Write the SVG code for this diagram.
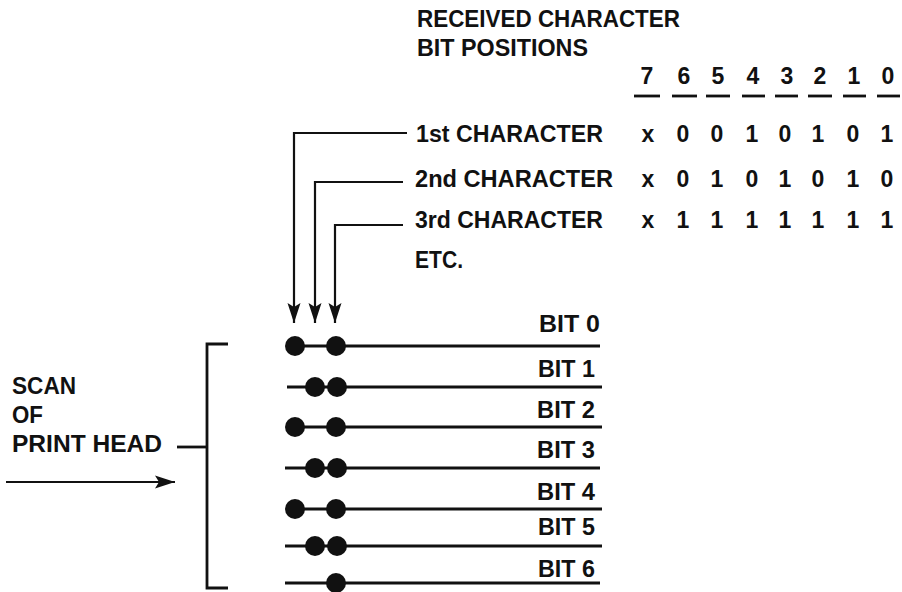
<svg xmlns="http://www.w3.org/2000/svg" width="902" height="592" viewBox="0 0 902 592">
<style>
text{font-family:"Liberation Sans",Arial,Helvetica,sans-serif;font-weight:bold;font-size:23px;fill:#111}
.d{text-anchor:middle}
.ln{stroke:#111;stroke-width:2.8;fill:none;stroke-linecap:butt}
.thin{stroke:#111;stroke-width:2.2;fill:none}
.dot{fill:#111}
</style>
<defs>
<marker id="ah" markerUnits="userSpaceOnUse" markerWidth="20" markerHeight="14" viewBox="0 0 20 14" refX="20" refY="7" orient="auto">
<path d="M0,0.5 L20,7 L0,13.5 L4,7 Z" fill="#111"/>
</marker>
</defs>
<rect width="902" height="592" fill="#fff"/>

<g id="header">
<text x="417" y="27" textLength="263" lengthAdjust="spacingAndGlyphs">RECEIVED CHARACTER</text>
<text x="417" y="56" textLength="171" lengthAdjust="spacingAndGlyphs">BIT POSITIONS</text>
<g class="d">
<text x="647" y="84">7</text><text x="684" y="84">6</text><text x="718" y="84">5</text><text x="753" y="84">4</text>
<text x="787" y="84">3</text><text x="820" y="84">2</text><text x="854" y="84">1</text><text x="888" y="84">0</text>
</g>
<g class="ln">
<line x1="634" y1="96" x2="660" y2="96"/><line x1="672" y1="96" x2="697" y2="96"/><line x1="706" y1="96" x2="730" y2="96"/><line x1="742" y1="96" x2="765" y2="96"/>
<line x1="775" y1="96" x2="798" y2="96"/><line x1="808" y1="96" x2="832" y2="96"/><line x1="843" y1="96" x2="866" y2="96"/><line x1="877" y1="96" x2="900" y2="96"/>
</g>
</g>

<g id="char1">
<text x="416" y="142" textLength="187" lengthAdjust="spacingAndGlyphs">1st CHARACTER</text>
<g class="d">
<text x="648" y="142">x</text><text x="683" y="142">0</text><text x="717" y="142">0</text><text x="752" y="142">1</text>
<text x="785" y="142">0</text><text x="818" y="142">1</text><text x="853" y="142">0</text><text x="887" y="142">1</text>
</g>
</g>
<g id="char2">
<text x="415" y="187" textLength="198" lengthAdjust="spacingAndGlyphs">2nd CHARACTER</text>
<g class="d">
<text x="648" y="187">x</text><text x="683" y="187">0</text><text x="717" y="187">1</text><text x="752" y="187">0</text>
<text x="785" y="187">1</text><text x="818" y="187">0</text><text x="853" y="187">1</text><text x="887" y="187">0</text>
</g>
</g>
<g id="char3">
<text x="415" y="228" textLength="188" lengthAdjust="spacingAndGlyphs">3rd CHARACTER</text>
<g class="d">
<text x="648" y="228">x</text><text x="683" y="228">1</text><text x="717" y="228">1</text><text x="752" y="228">1</text>
<text x="785" y="228">1</text><text x="818" y="228">1</text><text x="853" y="228">1</text><text x="887" y="228">1</text>
</g>
</g>
<g id="etc">
<text x="415" y="268" textLength="48" lengthAdjust="spacingAndGlyphs">ETC.</text>
</g>

<g id="bit0">
<line class="ln" x1="295" y1="346" x2="600" y2="346"/>
<circle class="dot" cx="295" cy="346" r="10"/><circle class="dot" cx="336" cy="346" r="10"/>
<text x="539" y="332" textLength="61" lengthAdjust="spacingAndGlyphs">BIT 0</text>
</g>
<g id="bit1">
<line class="ln" x1="287" y1="387" x2="602" y2="387"/>
<circle class="dot" cx="315" cy="387" r="10"/><circle class="dot" cx="337" cy="387" r="10"/>
<text x="538" y="377" textLength="57" lengthAdjust="spacingAndGlyphs">BIT 1</text>
</g>
<g id="bit2">
<line class="ln" x1="287" y1="427" x2="602" y2="427"/>
<circle class="dot" cx="295" cy="427" r="10"/><circle class="dot" cx="336" cy="427" r="10"/>
<text x="537" y="418" textLength="58" lengthAdjust="spacingAndGlyphs">BIT 2</text>
</g>
<g id="bit3">
<line class="ln" x1="285" y1="468" x2="600" y2="468"/>
<circle class="dot" cx="315" cy="468" r="10"/><circle class="dot" cx="337" cy="468" r="10"/>
<text x="537" y="458" textLength="58" lengthAdjust="spacingAndGlyphs">BIT 3</text>
</g>
<g id="bit4">
<line class="ln" x1="287" y1="509" x2="602" y2="509"/>
<circle class="dot" cx="295" cy="509" r="10"/><circle class="dot" cx="336" cy="509" r="10"/>
<text x="537" y="500" textLength="58" lengthAdjust="spacingAndGlyphs">BIT 4</text>
</g>
<g id="bit5">
<line class="ln" x1="285" y1="546" x2="602" y2="546"/>
<circle class="dot" cx="315" cy="546" r="10"/><circle class="dot" cx="337" cy="546" r="10"/>
<text x="538" y="535" textLength="57" lengthAdjust="spacingAndGlyphs">BIT 5</text>
</g>
<g id="bit6">
<line class="ln" x1="285" y1="583" x2="600" y2="583"/>
<circle class="dot" cx="336" cy="583" r="10"/>
<text x="538" y="577" textLength="57" lengthAdjust="spacingAndGlyphs">BIT 6</text>
</g>

<g id="scan-label">
<text x="12" y="394" textLength="64" lengthAdjust="spacingAndGlyphs">SCAN</text>
<text x="12" y="423" textLength="31" lengthAdjust="spacingAndGlyphs">OF</text>
<text x="12" y="452" textLength="150" lengthAdjust="spacingAndGlyphs">PRINT HEAD</text>
</g>

<g id="bracket">
<path class="ln" d="M228,344 H207 V588 H228"/>
</g>

<g id="connectors">
<path class="thin" d="M407,133 H294 V323" marker-end="url(#ah)"/>
<path class="thin" d="M403,182 H315 V323" marker-end="url(#ah)"/>
<path class="thin" d="M403,225 H335 V323" marker-end="url(#ah)"/>
<line class="ln" x1="177" y1="447" x2="207" y2="447"/>
<line class="thin" x1="6" y1="482" x2="175" y2="482" marker-end="url(#ah)"/>
</g>
</svg>
